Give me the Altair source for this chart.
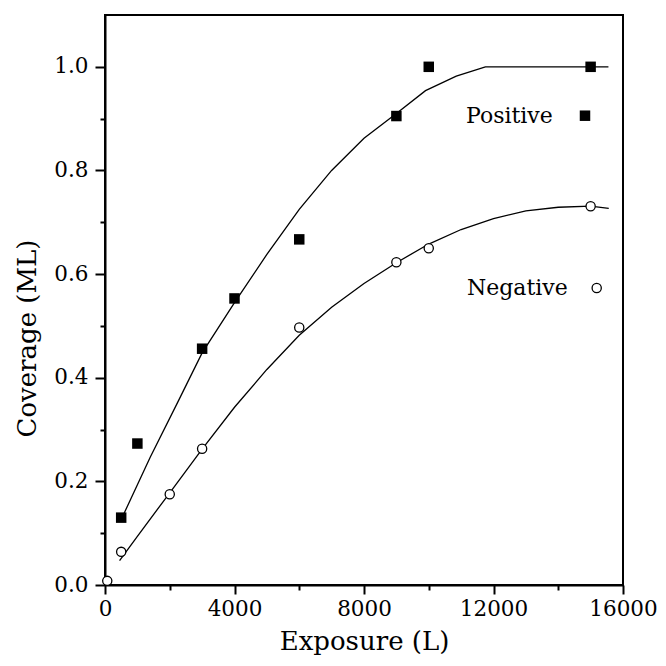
import altair as alt
import pandas as pd

# ---- data ----
series_names = ["Positive", "Negative"]

pos_exposure = [500, 1000, 3000, 4000, 6000, 9000, 10000, 15000]
pos_coverage = [0.130, 0.273, 0.456, 0.553, 0.667, 0.905, 1.000, 1.000]

neg_exposure = [70, 500, 2000, 3000, 6000, 9000, 10000, 15000]
neg_coverage = [0.008, 0.064, 0.175, 0.263, 0.497, 0.623, 0.650, 0.731]

pos_fit_exposure = [580, 1400, 2240, 3000, 4000, 5000, 6000, 7000, 8000, 9000, 9900, 10850, 11750, 15550]
pos_fit_coverage = [0.137, 0.247, 0.352, 0.448, 0.545, 0.638, 0.725, 0.800, 0.862, 0.910, 0.954, 0.982, 1.000, 1.000]

neg_fit_exposure = [450, 1000, 2000, 3000, 4000, 5000, 6000, 7000, 8000, 9000, 10000,
                    11000, 12000, 13000, 14000, 15000, 15560]
neg_fit_coverage = [0.047, 0.094, 0.178, 0.262, 0.343, 0.416, 0.482, 0.536, 0.582, 0.622, 0.658,
                    0.686, 0.707, 0.722, 0.729, 0.731, 0.727]

x_ticks = [0, 2000, 4000, 6000, 8000, 10000, 12000, 14000, 16000]
y_ticks = [0.0, 0.1, 0.2, 0.3, 0.4, 0.5, 0.6, 0.7, 0.8, 0.9, 1.0]

# ---- frames ----
pos_df = pd.DataFrame({"exposure": pos_exposure, "coverage": pos_coverage})
neg_df = pd.DataFrame({"exposure": neg_exposure, "coverage": neg_coverage})
pos_fit_df = pd.DataFrame({"exposure": pos_fit_exposure, "coverage": pos_fit_coverage})
neg_fit_df = pd.DataFrame({"exposure": neg_fit_exposure, "coverage": neg_fit_coverage})

FONT = "DejaVu Serif"

x_scale = alt.Scale(domain=[0, 16000], nice=False, zero=False)
y_scale = alt.Scale(domain=[0, 1.1], nice=False, zero=False)

x_axis = alt.Axis(
    values=x_ticks,
    format="d",
    labelExpr="datum.value % 4000 === 0 ? datum.label : ''",
    tickSize={"condition": {"test": "datum.value % 4000 === 0", "value": 9}, "value": 5},
    labelFlush=False,
    labelOverlap=False,
    labelPadding=4,
    titlePadding=9,
    grid=False,
)
y_axis = alt.Axis(
    values=y_ticks,
    format=".1f",
    labelExpr="round(datum.value * 10) % 2 === 0 ? datum.label : ''",
    tickSize={"condition": {"test": "round(datum.value * 10) % 2 === 0", "value": 10}, "value": 5},
    labelOverlap=False,
    labelPadding=7,
    titlePadding=13,
    titleY=323,
    grid=False,
)

X = alt.X("exposure:Q", scale=x_scale, axis=x_axis, title="Exposure (L)")
Y = alt.Y("coverage:Q", scale=y_scale, axis=y_axis, title="Coverage (ML)")

pos_fit = alt.Chart(pos_fit_df).mark_line(color="black", strokeWidth=1.3).encode(x=X, y=Y)
neg_fit = alt.Chart(neg_fit_df).mark_line(color="black", strokeWidth=1.3).encode(x=X, y=Y)

pos_pts = alt.Chart(pos_df).mark_point(
    shape="square", filled=True, size=110, color="black", opacity=1
).encode(x=X, y=Y)
neg_pts = alt.Chart(neg_df).mark_point(
    shape="circle", filled=True, fill="white", stroke="black", strokeWidth=1.3, size=85, opacity=1
).encode(x=X, y=Y)

# ---- in-plot legend (label, then symbol) ----
leg_df = pd.DataFrame({"label": series_names})
pos_leg_text = alt.Chart(leg_df).transform_filter("datum.label === 'Positive'").mark_text(
    align="left", baseline="middle", font=FONT, fontSize=22, color="black"
).encode(text="label:N", x=alt.value(361), y=alt.value(100.5))
pos_leg_sym = alt.Chart(leg_df).transform_filter("datum.label === 'Positive'").mark_point(
    shape="square", filled=True, size=110, color="black", opacity=1
).encode(x=alt.value(480), y=alt.value(100.7))
neg_leg_text = alt.Chart(leg_df).transform_filter("datum.label === 'Negative'").mark_text(
    align="left", baseline="middle", font=FONT, fontSize=22, color="black"
).encode(text="label:N", x=alt.value(362), y=alt.value(272.5))
neg_leg_sym = alt.Chart(leg_df).transform_filter("datum.label === 'Negative'").mark_point(
    shape="circle", filled=True, fill="white", stroke="black", strokeWidth=1.3, size=85, opacity=1
).encode(x=alt.value(491.7), y=alt.value(273))

chart = alt.layer(
    pos_fit, neg_fit, pos_pts, neg_pts, pos_leg_text, pos_leg_sym, neg_leg_text, neg_leg_sym
).properties(
    width=518,
    height=570,
    autosize=alt.AutoSizeParams(type="none"),
    padding={"left": 97, "top": 7, "right": 35, "bottom": 73},
    background="white",
).configure_view(
    stroke="black", strokeWidth=2
).configure_axis(
    domainColor="black",
    domainWidth=2,
    tickColor="black",
    tickWidth=2,
    labelFont=FONT,
    labelFontSize=21.5,
    labelColor="black",
    titleFont=FONT,
    titleFontSize=26,
    titleFontWeight="normal",
    titleColor="black",
)

chart.save("out.html", embed_options={"renderer": "svg", "actions": False})
